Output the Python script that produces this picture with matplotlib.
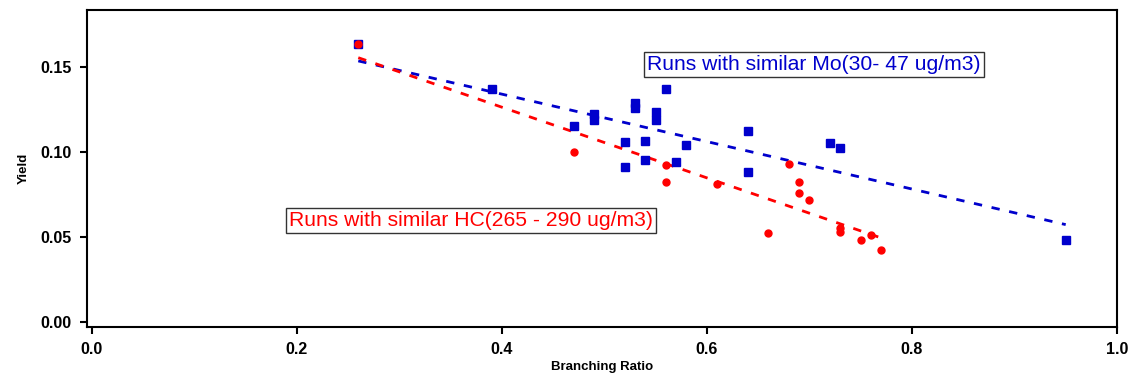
import numpy as np
import matplotlib
matplotlib.use('Agg')
import matplotlib.pyplot as plt

# blue: runs with similar Mo
mo_x = [0.26, 0.39, 0.47, 0.49, 0.49, 0.52, 0.52, 0.53, 0.53, 0.54, 0.54,
        0.55, 0.55, 0.56, 0.57, 0.58, 0.64, 0.64, 0.72, 0.73, 0.95]
mo_y = [0.1635, 0.137, 0.115, 0.122, 0.119, 0.106, 0.091, 0.1285, 0.126, 0.1065, 0.0955,
        0.1235, 0.1185, 0.137, 0.094, 0.104, 0.1125, 0.088, 0.105, 0.1025, 0.048]

# red: runs with similar HC
hc_x = [0.26, 0.47, 0.56, 0.56, 0.61, 0.66, 0.68, 0.69, 0.69, 0.70,
        0.73, 0.73, 0.75, 0.76, 0.77]
hc_y = [0.1635, 0.100, 0.092, 0.082, 0.081, 0.052, 0.093, 0.082, 0.0755, 0.0715,
        0.055, 0.053, 0.048, 0.051, 0.042]

blue = '#0000CC'
red = '#FF0000'
tick_font = ['Liberation Sans Narrow', 'Liberation Sans', 'DejaVu Sans']

fig = plt.figure(figsize=(11.31, 3.77), dpi=100)
ax = fig.add_axes([0.077, 0.133, 0.9106, 0.8405])

ax.plot(mo_x, mo_y, 's', color=blue, markersize=5.8, zorder=3)
ax.plot(hc_x, hc_y, 'o', color=red, markersize=5, zorder=4)

# least squares trend lines
for xs, ys, c in [(mo_x, mo_y, blue), (hc_x, hc_y, red)]:
    k, b = np.polyfit(xs, ys, 1)
    xx = np.array([min(xs), max(xs)])
    ax.plot(xx, k * xx + b, '--', color=c, lw=2, dashes=(3, 3.5), zorder=2)

box = dict(facecolor='white', edgecolor='#333333', lw=1, boxstyle='square,pad=0.15')
ax.text(0.5415, 0.1515, 'Runs with similar Mo(30- 47 ug/m3)', color=blue,
        fontsize=15.2, family='Liberation Sans', ha='left', va='center', bbox=box)
ax.text(0.1925, 0.0595, 'Runs with similar HC(265 - 290 ug/m3)', color=red,
        fontsize=15.2, family='Liberation Sans', ha='left', va='center', bbox=box)

ax.set_xlim(-0.0045, 1.0)
ax.set_ylim(-0.003, 0.1835)
ax.set_xticks([0.0, 0.2, 0.4, 0.6, 0.8, 1.0])
ax.set_yticks([0.0, 0.05, 0.10, 0.15])
ax.set_xticklabels(['0.0', '0.2', '0.4', '0.6', '0.8', '1.0'])
ax.set_yticklabels(['0.00', '0.05', '0.10', '0.15'])
for lab in ax.get_xticklabels() + ax.get_yticklabels():
    lab.set_family(tick_font)
    lab.set_fontweight('bold')
    lab.set_fontsize(11.5)
ax.tick_params(direction='out', length=5, width=1.5, pad=6)

ax.set_xlabel('Branching Ratio', family=tick_font, fontweight='bold', fontsize=9.5, labelpad=3)
ax.set_ylabel('Yield', family=tick_font, fontweight='bold', fontsize=9.5, labelpad=8)

for sp in ax.spines.values():
    sp.set_linewidth(1.5)

fig.savefig('out.png', dpi=100)
